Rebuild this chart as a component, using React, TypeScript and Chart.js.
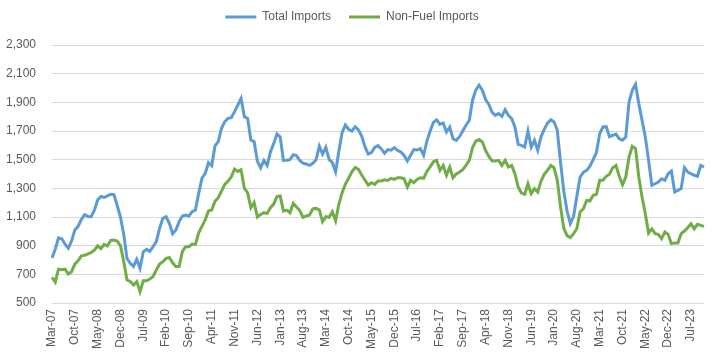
import React, { useEffect, useRef } from 'react';
import { Chart, registerables } from 'chart.js';

Chart.register(...registerables);

const MONTHS = ['Jan', 'Feb', 'Mar', 'Apr', 'May', 'Jun', 'Jul', 'Aug', 'Sep', 'Oct', 'Nov', 'Dec'];
const START_MONTH = 2; // March
const START_YEAR = 7; // 2007
const POINT_COUNT = 201; // Mar-07 .. Nov-23
const LABEL_EVERY = 7;

const categories: string[] = Array.from({ length: POINT_COUNT }, (_, i) => {
  const m = (START_MONTH + i) % 12;
  const y = START_YEAR + Math.floor((START_MONTH + i) / 12);
  return `${MONTHS[m]}-${String(y).padStart(2, '0')}`;
});

const totalImports = [
  815, 875, 955, 948, 910, 882, 932, 1010, 1035, 1082,
  1116, 1104, 1102, 1148, 1218, 1243, 1236, 1247, 1259, 1256,
  1180, 1100, 980, 810, 777, 755, 804, 743, 857, 874,
  860, 893, 928, 1021, 1091, 1102, 1056, 983, 1009, 1068,
  1107, 1114, 1107, 1137, 1149, 1265, 1370, 1405, 1479, 1458,
  1596, 1626, 1719, 1765, 1788, 1793, 1835, 1881, 1928, 1800,
  1788, 1637, 1626, 1490, 1443, 1495, 1460, 1553, 1612, 1680,
  1658, 1495, 1496, 1500, 1535, 1528, 1495, 1476, 1470, 1460,
  1475, 1500, 1595, 1539, 1586, 1502, 1479, 1416, 1560, 1690,
  1742, 1712, 1700, 1730, 1707, 1665, 1591, 1539, 1549, 1586,
  1598, 1575, 1545, 1570, 1566, 1584, 1565, 1553, 1530, 1491,
  1530, 1570, 1567, 1577, 1530, 1630, 1700, 1760, 1778, 1746,
  1756, 1693, 1728, 1646, 1635, 1660, 1700, 1740, 1774, 1915,
  1985, 2019, 1985, 1920, 1885, 1830, 1809, 1821, 1802, 1849,
  1809, 1786, 1728, 1607, 1600, 1588, 1700, 1588, 1635, 1565,
  1658, 1712, 1755, 1779, 1763, 1705, 1480, 1280, 1140, 1055,
  1105, 1245, 1379, 1412, 1425, 1455, 1500, 1550, 1681, 1728,
  1730, 1660, 1670, 1678, 1645, 1636, 1658, 1902, 1984, 2026,
  1891, 1774, 1658, 1495, 1321, 1332, 1344, 1367, 1356, 1402,
  1421, 1274, 1286, 1298, 1444, 1414, 1402, 1391, 1384, 1460,
  1449,
];

const nonFuelImports = [
  679, 645, 736, 732, 736, 702, 718, 771, 794, 829,
  833, 842, 852, 868, 898, 880, 909, 898, 937, 939,
  932, 900, 790, 660, 650, 625, 649, 579, 655, 655,
  667, 684, 730, 772, 788, 811, 818, 780, 755, 755,
  860, 893, 893, 911, 909, 990, 1035, 1080, 1142, 1150,
  1210, 1235, 1281, 1328, 1350, 1380, 1435, 1418, 1430, 1300,
  1270, 1165, 1200, 1100, 1118, 1130, 1125, 1165, 1190, 1242,
  1246, 1141, 1148, 1130, 1195, 1170, 1145, 1098, 1107, 1114,
  1156, 1160, 1150, 1067, 1102, 1098, 1137, 1074, 1190, 1270,
  1330, 1370, 1415, 1446, 1432, 1393, 1358, 1323, 1339, 1328,
  1352, 1352, 1360, 1355, 1370, 1362, 1374, 1374, 1367, 1309,
  1356, 1340, 1362, 1374, 1370, 1418, 1450, 1485, 1495, 1425,
  1460, 1391, 1449, 1374, 1400, 1414, 1430, 1460, 1495, 1584,
  1630, 1640, 1623, 1565, 1523, 1491, 1491, 1495, 1460, 1495,
  1449, 1460, 1402, 1309, 1267, 1258, 1332, 1263, 1298, 1274,
  1350, 1398, 1426, 1460, 1444, 1356, 1170, 1020, 970, 956,
  984, 1020, 1135, 1158, 1216, 1211, 1251, 1258, 1356, 1356,
  1384, 1398, 1444, 1460, 1384, 1325, 1379, 1519, 1593, 1577,
  1379, 1239, 1123, 988, 1018, 984, 979, 949, 995, 979,
  914, 918, 918, 984, 1002, 1025, 1053, 1018, 1049, 1042,
  1035,
];

const FONT_FAMILY = "'Liberation Sans', Arial, sans-serif";
const TEXT_COLOR = '#595959';
const GRID_COLOR = '#D9D9D9';
const LEGEND_PADDING = 18;

export default function App() {
  const canvasRef = useRef<HTMLCanvasElement>(null);

  useEffect(() => {
    document.body.style.margin = '0';
    const legendGap = {
      id: 'legendGap',
      beforeInit(chart: any) {
        const fit = chart.legend.fit;
        chart.legend.fit = function () {
          fit.call(this);
          this.height += 12;
        };
      },
    };
    const chart = new Chart(canvasRef.current as HTMLCanvasElement, {
      type: 'line',
      data: {
        labels: categories,
        datasets: [
          {
            label: 'Total Imports',
            data: totalImports,
            borderColor: '#5B9BD5',
            backgroundColor: '#5B9BD5',
            borderWidth: 3,
            pointRadius: 0,
            tension: 0,
          },
          {
            label: 'Non-Fuel Imports',
            data: nonFuelImports,
            borderColor: '#70AD47',
            backgroundColor: '#70AD47',
            borderWidth: 3,
            pointRadius: 0,
            tension: 0,
          },
        ],
      },
      options: {
        animation: false,
        responsive: true,
        maintainAspectRatio: false,
        layout: { padding: { left: 0, right: 12, top: 11 - LEGEND_PADDING, bottom: 0 } },
        plugins: {
          legend: {
            position: 'top',
            labels: {
              usePointStyle: true,
              pointStyle: 'line',
              pointStyleWidth: 31,
              color: TEXT_COLOR,
              font: { size: 12, family: FONT_FAMILY },
              padding: LEGEND_PADDING,
            },
          },
          tooltip: { enabled: false },
        },
        scales: {
          x: {
            grid: { display: false, drawTicks: false },
            border: { display: false },
            ticks: {
              autoSkip: false,
              minRotation: 90,
              maxRotation: 90,
              padding: 6,
              color: TEXT_COLOR,
              font: { size: 12, family: FONT_FAMILY },
              callback: (_v: any, i: number) => (i % LABEL_EVERY === 0 ? categories[i] : null),
            },
            afterFit: (s: any) => {
              s.height = 54;
            },
          },
          y: {
            min: 500,
            max: 2300,
            ticks: {
              stepSize: 200,
              padding: 16,
              color: TEXT_COLOR,
              font: { size: 12, family: FONT_FAMILY },
              callback: (v: any) => Number(v).toLocaleString('en-US'),
            },
            grid: { color: GRID_COLOR, lineWidth: 1, drawTicks: false },
            border: { display: false },
            afterFit: (s: any) => {
              s.width = 52;
            },
          },
        },
      },
      plugins: [legendGap],
    } as any);
    return () => chart.destroy();
  }, []);

  return (
    <div style={{ width: 716, height: 357, position: 'relative' }}>
      <canvas ref={canvasRef} />
    </div>
  );
}
